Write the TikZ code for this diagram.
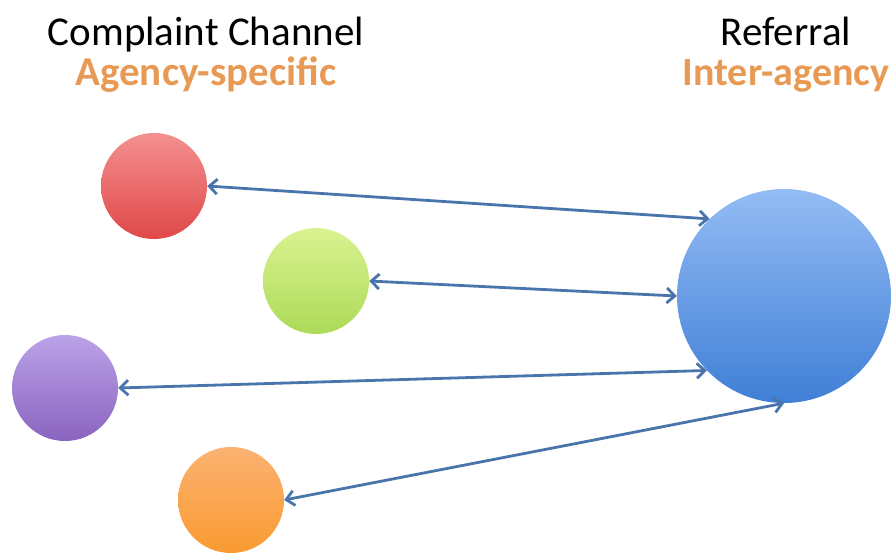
\documentclass[tikz,border=0pt]{standalone}
\usepackage{fontspec}
\setmainfont{Carlito}
\usetikzlibrary{arrows.meta}

\definecolor{linkblue}{HTML}{4A74AC}
\definecolor{headorange}{HTML}{E89A55}
\definecolor{redtop}{HTML}{F49090}
\definecolor{redbot}{HTML}{E04848}
\definecolor{greentop}{HTML}{DAF291}
\definecolor{greenbot}{HTML}{ACDA58}
\definecolor{purpletop}{HTML}{BBA2E8}
\definecolor{purplebot}{HTML}{8A64C0}
\definecolor{orangetop}{HTML}{FBB272}
\definecolor{orangebot}{HTML}{FA9A30}
\definecolor{bluetop}{HTML}{94BCF4}
\definecolor{bluebot}{HTML}{3F7FD6}

\begin{document}
\begin{tikzpicture}[x=1pt, y=-1pt,
    ball/.style = {circle, inner sep=0pt, minimum size=#1},
    ball/.default = 106pt,
    link/.style = {{Straight Barb[length=8pt,width=15pt]}-{Straight Barb[length=8pt,width=15pt]},
        draw=linkblue, line width=2.8pt},
    title/.style = {anchor=base, font=\fontsize{41}{48}\selectfont, text=black},
    sub/.style = {anchor=base, font=\fontsize{41}{48}\selectfont\bfseries, text=headorange}]
        \useasboundingbox (0, 0) rectangle (894, 552);
        % headings
        \node [title] (tcomp) at (206, 45) {Complaint Channel};
        \node [sub] (scomp) at (206, 85) {Agency-specific};
        \node [title] (tref) at (786, 45) {Referral};
        \node [sub, font=\fontsize{40}{48}\selectfont\bfseries] (sref) at (786, 85) {Inter-agency};
        % circles
        \node [ball, top color=redtop, bottom color=redbot] (red) at (154, 186) {};
        \node [ball, top color=greentop, bottom color=greenbot] (green) at (316, 281) {};
        \node [ball, top color=purpletop, bottom color=purplebot] (purple) at (65, 388) {};
        \node [ball, top color=orangetop, bottom color=orangebot] (orange) at (231, 500) {};
        \node [ball=214pt, top color=bluetop, bottom color=bluebot] (blue) at (784, 296) {};
        % links
        \draw [link] (red.east) -- (blue.134);
        \draw [link] (green.east) -- (blue.west);
        \draw [link] (purple.east) -- (blue.224);
        \draw [link] (orange.east) -- (blue.south);
\end{tikzpicture}
\end{document}
